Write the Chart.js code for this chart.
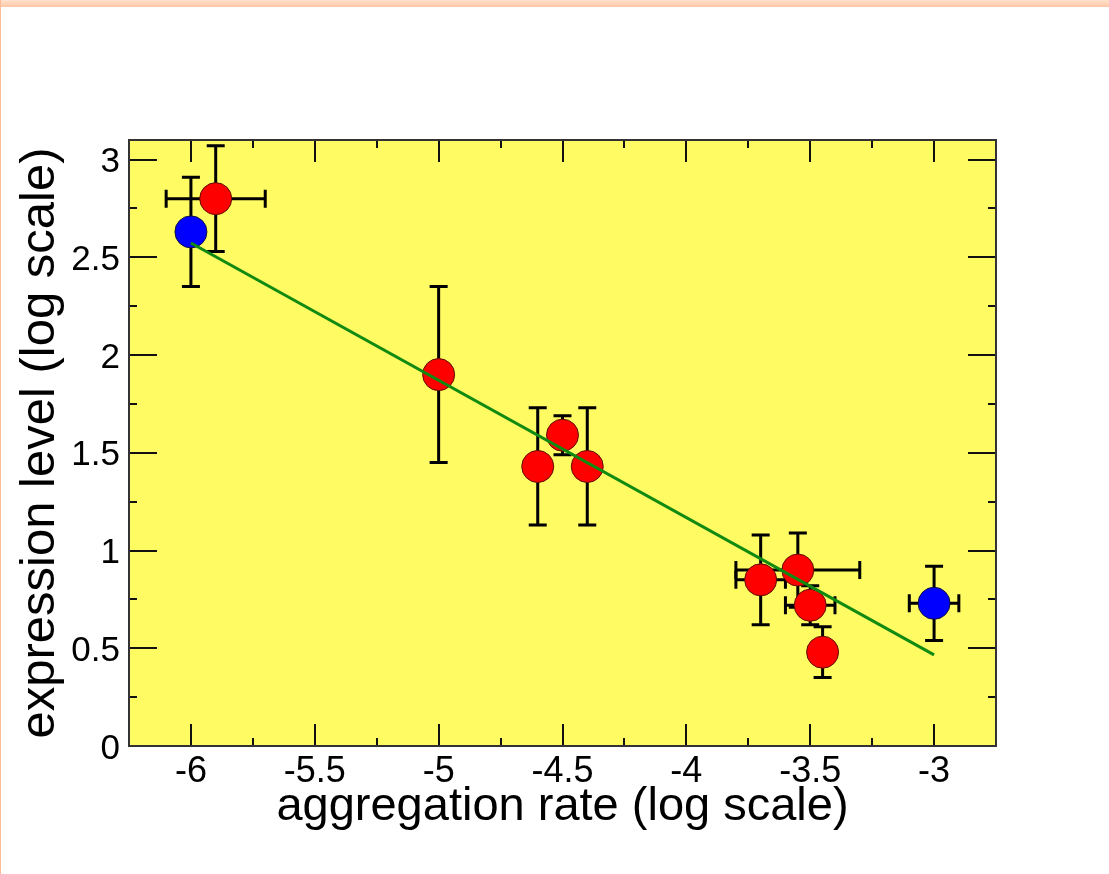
<!DOCTYPE html>
<html><head><meta charset="utf-8">
<script src="https://cdn.jsdelivr.net/npm/chart.js@4.4.1/dist/chart.umd.min.js"></script>
<style>
html,body{margin:0;padding:0;background:#fff;}
#wrap{position:relative;width:1109px;height:874px;overflow:hidden;background:#fff;}
#topbar{position:absolute;left:0;top:0;width:1109px;height:7px;background:linear-gradient(#ffe3cc,#ffc6a6);}
#leftbar{position:absolute;left:0;top:0;width:1px;height:874px;background:#ffbb98;}
canvas{position:absolute;left:0;top:0;}
</style></head>
<body><div id="wrap"><canvas id="c" width="1109" height="874"></canvas><div id="topbar"></div><div id="leftbar"></div></div>
<script>
// ---- data ----
const X_TICKS = [-6, -5.5, -5, -4.5, -4, -3.5, -3];
const X_MINOR = [-5.75, -5.25, -4.75, -4.25, -3.75, -3.25];
const Y_TICKS = [0, 0.5, 1, 1.5, 2, 2.5, 3];
const Y_MINOR = [0.25, 0.75, 1.25, 1.75, 2.25, 2.75];

const RED_X     = [-5.9, -5.0, -4.6, -4.5, -4.4, -3.7, -3.55, -3.5, -3.45];
const RED_Y     = [2.80, 1.90, 1.43, 1.59, 1.43, 0.85, 0.90, 0.72, 0.48];
const RED_X_ERR = [0.20, 0,    0,    0,    0,    0.10, 0.25, 0.10, 0];
const RED_Y_ERR = [0.27, 0.45, 0.30, 0.10, 0.30, 0.23, 0.19, 0.10, 0.13];

const BLUE_X     = [-6.0, -3.0];
const BLUE_Y     = [2.63, 0.73];
const BLUE_X_ERR = [0, 0.10];
const BLUE_Y_ERR = [0.28, 0.19];

const FIT_X = [-6, -3];
const FIT_Y = [2.573, 0.466];

const X_TITLE = 'aggregation rate (log scale)';
const Y_TITLE = 'expression level (log scale)';

const FONT = "'Liberation Sans', Arial, Helvetica, sans-serif";

function pts(xs, ys){ return xs.map((x,i)=>({x:x, y:ys[i]})); }

const frameTicks = {
  id: 'frameTicks',
  beforeDraw(chart){
    const {ctx, chartArea:a} = chart;
    ctx.save();
    ctx.fillStyle = '#fffb63';
    ctx.fillRect(a.left, a.top, a.right-a.left, a.bottom-a.top);
    ctx.restore();
  },
  beforeDatasetsDraw(chart){
    const {ctx, chartArea:a, scales} = chart;
    const xs = scales.x, ys = scales.y;
    ctx.save();
    ctx.strokeStyle = '#111';
    ctx.lineWidth = 2;
    ctx.beginPath();
    X_TICKS.forEach(v=>{ const p = Math.round(xs.getPixelForValue(v));
      ctx.moveTo(p, a.bottom); ctx.lineTo(p, a.bottom-22);
      ctx.moveTo(p, a.top); ctx.lineTo(p, a.top+22); });
    X_MINOR.forEach(v=>{ const p = Math.round(xs.getPixelForValue(v));
      ctx.moveTo(p, a.bottom); ctx.lineTo(p, a.bottom-8);
      ctx.moveTo(p, a.top); ctx.lineTo(p, a.top+8); });
    Y_TICKS.forEach(v=>{ const p = Math.round(ys.getPixelForValue(v));
      ctx.moveTo(a.left, p); ctx.lineTo(a.left+28, p);
      ctx.moveTo(a.right, p); ctx.lineTo(a.right-28, p); });
    Y_MINOR.forEach(v=>{ const p = Math.round(ys.getPixelForValue(v));
      ctx.moveTo(a.left, p); ctx.lineTo(a.left+8, p);
      ctx.moveTo(a.right, p); ctx.lineTo(a.right-8, p); });
    ctx.stroke();
    ctx.strokeStyle = '#333';
    ctx.lineWidth = 2;
    ctx.strokeRect(a.left, a.top, a.right-a.left, a.bottom-a.top);
    // error bars
    ctx.strokeStyle = '#000';
    ctx.lineWidth = 3;
    const cap = 9;
    function bars(X, Y, EX, EY){
      X.forEach((x,i)=>{
        const px = xs.getPixelForValue(x), py = ys.getPixelForValue(Y[i]);
        ctx.beginPath();
        if (EY[i] > 0){
          const t = ys.getPixelForValue(Y[i]+EY[i]), b = ys.getPixelForValue(Y[i]-EY[i]);
          ctx.moveTo(px, t); ctx.lineTo(px, b);
          ctx.moveTo(px-cap, t); ctx.lineTo(px+cap, t);
          ctx.moveTo(px-cap, b); ctx.lineTo(px+cap, b);
        }
        if (EX[i] > 0){
          const l = xs.getPixelForValue(x-EX[i]), r = xs.getPixelForValue(x+EX[i]);
          ctx.moveTo(l, py); ctx.lineTo(r, py);
          ctx.moveTo(l, py-cap); ctx.lineTo(l, py+cap);
          ctx.moveTo(r, py-cap); ctx.lineTo(r, py+cap);
        }
        ctx.stroke();
      });
    }
    bars(RED_X, RED_Y, RED_X_ERR, RED_Y_ERR);
    bars(BLUE_X, BLUE_Y, BLUE_X_ERR, BLUE_Y_ERR);
    ctx.restore();
  }
};

new Chart(document.getElementById('c'), {
  type: 'scatter',
  data: {
    datasets: [
      { label: 'fit', type: 'line', data: pts(FIT_X, FIT_Y), borderColor: '#118a11', borderWidth: 3,
        pointRadius: 0, fill: false, order: 0 },
      { label: 'red', data: pts(RED_X, RED_Y), backgroundColor: '#ff0000', borderColor: '#5a1000',
        borderWidth: 1, pointRadius: 16, pointHoverRadius: 16, order: 2 },
      { label: 'blue', data: pts(BLUE_X, BLUE_Y), backgroundColor: '#0000ff', borderColor: '#101040',
        borderWidth: 1, pointRadius: 16, pointHoverRadius: 16, order: 1 }
    ]
  },
  options: {
    responsive: false,
    animation: false,
    events: [],
    layout: { padding: { left: 0, top: 140, right: 113, bottom: 0 } },
    plugins: { legend: { display: false }, tooltip: { enabled: false } },
    scales: {
      x: {
        type: 'linear', min: -6.25, max: -2.75,
        afterBuildTicks(s){ s.ticks = X_TICKS.map(v=>({value:v})); },
        afterFit(s){ s.height = 128; },
        grid: { display: false, drawTicks: false },
        border: { display: false },
        ticks: { color: '#000', padding: 4, maxRotation: 0, font: { family: FONT, size: 36 },
                 callback: v => String(v) },
        title: { display: true, text: X_TITLE, color: '#000', font: { family: FONT, size: 47 },
                 padding: { top: 0, bottom: 39 } }
      },
      y: {
        type: 'linear', min: 0, max: 3.1,
        afterBuildTicks(s){ s.ticks = Y_TICKS.map(v=>({value:v})); },
        afterFit(s){ s.width = 129; },
        grid: { display: false, drawTicks: false },
        border: { display: false },
        ticks: { color: '#000', padding: 9, labelOffset: 3, font: { family: FONT, size: 35 },
                 callback: v => String(v) },
        title: { display: true, text: Y_TITLE, color: '#000', font: { family: FONT, size: 49, lineHeight: 1 },
                 padding: { top: 16, bottom: 0 } }
      }
    }
  },
  plugins: [frameTicks]
});
</script>
</body></html>
